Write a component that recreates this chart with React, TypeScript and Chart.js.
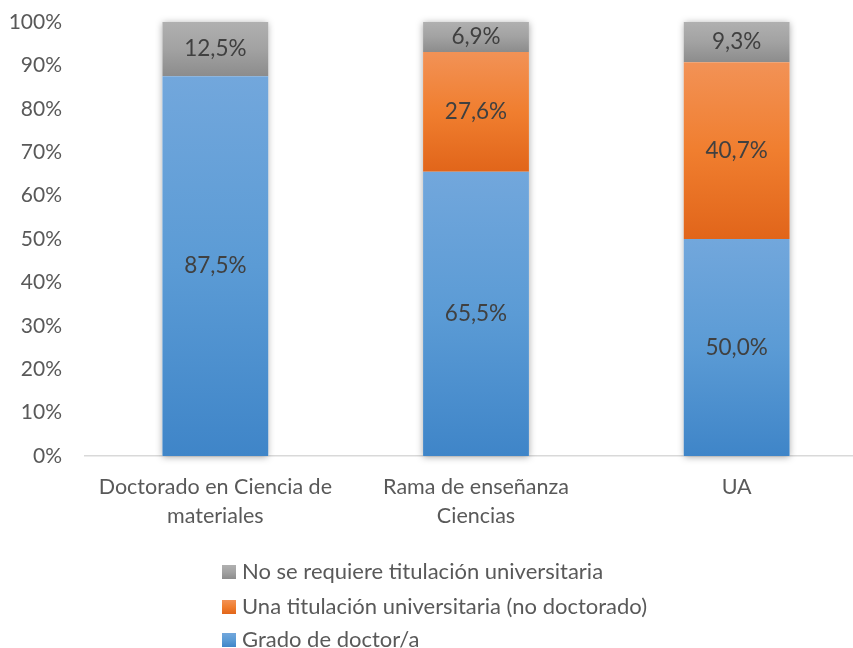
import React, { useEffect, useRef } from "react";
import { Chart, registerables } from "chart.js";
Chart.register(...registerables);

const categories = [["Doctorado en Ciencia de", "materiales"], ["Rama de enseñanza", "Ciencias"], "UA"];
const seriesNames = [
  "Grado de doctor/a",
  "Una titulación universitaria (no doctorado)",
  "No se requiere titulación universitaria",
];
const gradoDoctor = [87.5, 65.5, 50.0];
const titulacionNoDoctorado = [0, 27.6, 40.7];
const noRequiere = [12.5, 6.9, 9.3];
const seriesValues = [gradoDoctor, titulacionNoDoctorado, noRequiere];

const gradientStops = [
  ["#72A7DC", "#5B9BD5", "#3F85C8"],
  ["#F29256", "#F07E2F", "#E1651A"],
  ["#B0B0B0", "#A2A2A2", "#8C8C8C"],
];

const FONT = "Lato, 'Open Sans', sans-serif";
const TEXT = "#595959";

function segGradient(dsIndex: number) {
  const stops = gradientStops[dsIndex];
  return (ctx: any) => {
    const chart = ctx.chart;
    if (!chart.chartArea || ctx.type !== "data") return stops[1];
    const y = chart.scales.y;
    const i = ctx.dataIndex;
    let base = 0;
    for (let d = 0; d < dsIndex; d++) base += seriesValues[d][i];
    const top = base + seriesValues[dsIndex][i];
    const y0 = y.getPixelForValue(top);
    const y1 = y.getPixelForValue(base);
    if (y1 - y0 < 1) return stops[1];
    const g = chart.ctx.createLinearGradient(0, y0, 0, y1);
    g.addColorStop(0, stops[0]);
    g.addColorStop(0.5, stops[1]);
    g.addColorStop(1, stops[2]);
    return g;
  };
}

const shadowPlugin = {
  id: "barShadow",
  beforeDatasetsDraw(chart: any) {
    const ctx = chart.ctx;
    const metas = chart.data.datasets.map((_: any, d: number) => chart.getDatasetMeta(d));
    const n = chart.data.labels.length;
    ctx.save();
    for (let i = 0; i < n; i++) {
      const b = metas[0].data[i];
      let top = Infinity;
      metas.forEach((m: any) => { top = Math.min(top, m.data[i].y); });
      const x = b.x - b.width / 2;
      ctx.shadowColor = "rgba(0,0,0,0.35)";
      ctx.shadowBlur = 7;
      ctx.shadowOffsetX = 0;
      ctx.shadowOffsetY = 1;
      ctx.fillStyle = "#ffffff";
      ctx.fillRect(x, top, b.width, b.base - top);
    }
    ctx.restore();
  },
};

const labelPlugin = {
  id: "segLabels",
  afterDatasetsDraw(chart: any) {
    const ctx = chart.ctx;
    ctx.save();
    ctx.font = `22.5px ${FONT}`;
    ctx.fillStyle = "#404040";
    ctx.textAlign = "center";
    ctx.textBaseline = "middle";
    chart.data.datasets.forEach((ds: any, d: number) => {
      const meta = chart.getDatasetMeta(d);
      meta.data.forEach((el: any, i: number) => {
        const v = ds.data[i];
        if (!v) return;
        const txt = v.toFixed(1).replace(".", ",") + "%";
        ctx.fillText(txt, el.x, (el.y + el.base) / 2);
      });
    });
    ctx.restore();
  },
};

const legendPlugin = {
  id: "columnLegend",
  afterDraw(chart: any) {
    const ctx = chart.ctx;
    const h = chart.height;
    const rows = [h - 76, h - 41, h - 8];
    const order = [2, 1, 0];
    ctx.save();
    ctx.font = `22px ${FONT}`;
    ctx.textAlign = "left";
    ctx.textBaseline = "middle";
    order.forEach((d, r) => {
      const cy = rows[r];
      const stops = gradientStops[d];
      const g = ctx.createLinearGradient(0, cy - 7, 0, cy + 7);
      g.addColorStop(0, stops[0]);
      g.addColorStop(0.5, stops[1]);
      g.addColorStop(1, stops[2]);
      ctx.fillStyle = g;
      ctx.fillRect(222, cy - 7, 14, 14);
      ctx.fillStyle = TEXT;
      ctx.fillText(seriesNames[d], 242, cy);
    });
    ctx.restore();
  },
};

export default function App() {
  const ref = useRef<HTMLCanvasElement>(null);
  useEffect(() => {
    if (!ref.current) return;
    const chart = new Chart(ref.current, {
      type: "bar",
      data: {
        labels: categories as any,
        datasets: seriesValues.map((vals, d) => ({
          label: seriesNames[d],
          data: vals,
          backgroundColor: segGradient(d) as any,
          borderWidth: 0,
          barPercentage: 0.406,
          categoryPercentage: 1,
        })),
      },
      options: {
        responsive: false,
        animation: false,
        devicePixelRatio: 1,
        layout: { padding: { top: 22, left: 0, right: 0, bottom: 0 } },
        plugins: { legend: { display: false }, tooltip: { enabled: false } },
        scales: {
          x: {
            stacked: true,
            grid: { display: false, drawTicks: false },
            border: { display: true, color: "#D9D9D9", width: 1.5 },
            ticks: {
              color: TEXT,
              font: { family: FONT, size: 21.5, lineHeight: 1.35 },
              padding: 16.5,
              maxRotation: 0,
              autoSkip: false,
            },
            afterFit: (s: any) => { s.height = 192; },
          },
          y: {
            stacked: true,
            min: 0,
            max: 100,
            grid: { display: false, drawTicks: false },
            border: { display: false },
            ticks: {
              stepSize: 10,
              color: TEXT,
              font: { family: FONT, size: 21 },
              padding: 23,
              callback: (v: any) => v + "%",
            },
            afterFit: (s: any) => {
              s.width = 85;
              s.paddingTop = 0;
              s.paddingBottom = 0;
            },
          },
        },
      },
      plugins: [shadowPlugin, labelPlugin, legendPlugin],
    });
    return () => chart.destroy();
  }, []);
  return (
    <div style={{ position: "absolute", left: 0, top: 0, width: 853, height: 648, overflow: "hidden", background: "#fff" }}>
      <canvas ref={ref} width={867} height={648} style={{ display: "block" }} />
    </div>
  );
}
